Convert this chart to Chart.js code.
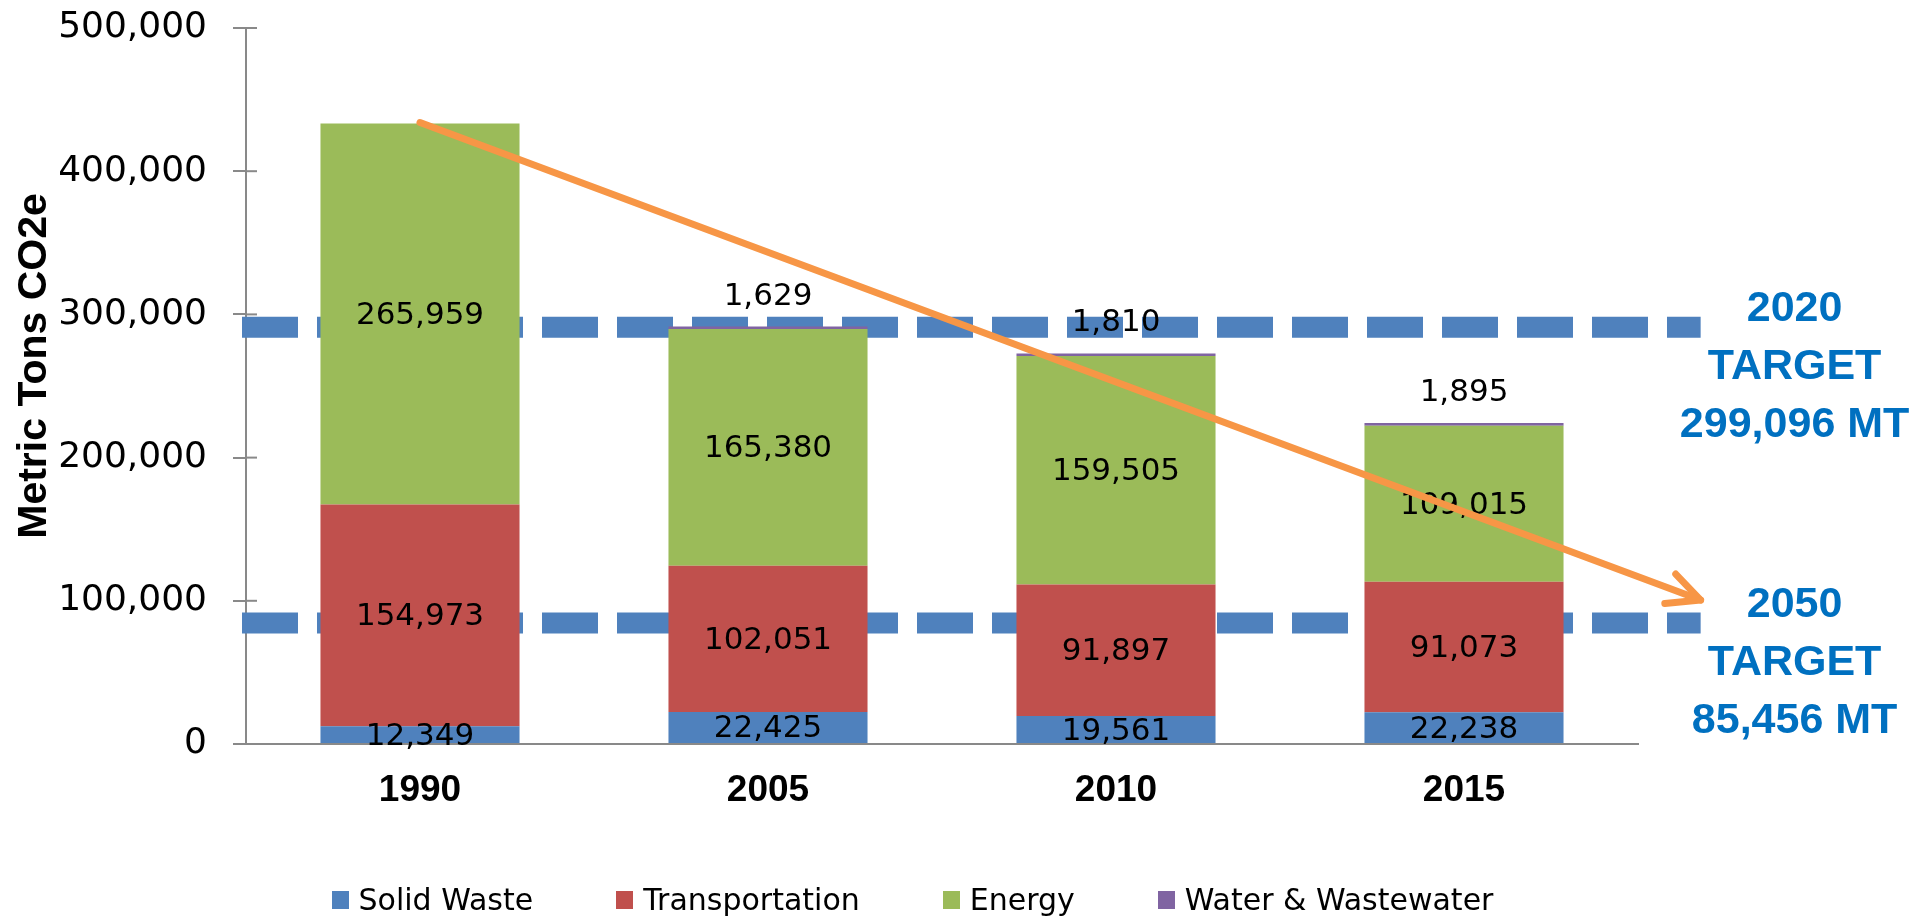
<!DOCTYPE html>
<html>
<head>
<meta charset="utf-8">
<title>Metric Tons CO2e</title>
<script src="https://cdn.jsdelivr.net/npm/chart.js@4.4.1/dist/chart.umd.min.js"></script>
<style>
  body { margin: 0; background: #fff; }
  #wrap { position: relative; width: 1931px; height: 917px; }
  #legend {
    position: absolute; left: 0; top: 885px; width: 1825px;
    display: flex; justify-content: center; gap: 83px;
    font: 30px "DejaVu Sans"; line-height: 30px; color: #000;
  }
  .item { display: flex; align-items: center; }
  .box { width: 17px; height: 18px; margin-right: 10px; }
</style>
</head>
<body>
<div id="wrap">
  <canvas id="chart" width="1931" height="917"></canvas>
  <div id="legend"></div>
</div>
<script>
const years = ["1990", "2005", "2010", "2015"];
const solidWaste = [12349, 22425, 19561, 22238];
const transportation = [154973, 102051, 91897, 91073];
const energy = [265959, 165380, 159505, 109015];
const water = [null, 1629, 1810, 1895];

const seriesNames = ["Solid Waste", "Transportation", "Energy", "Water & Wastewater"];
const seriesColors = ["#4F81BD", "#C0504D", "#9BBB59", "#8064A2"];

const yTicks = [0, 100000, 200000, 300000, 400000, 500000];
const yTitle = "Metric Tons CO2e";

// targets: label year/value, and where the dashed line sits on the axis
const targetYears = ["2020", "2050"];
const targetValues = [299096, 85456];
const targetLineValues = [291000, 84500];

// trend arrow: from the 1990 total down to past 2015
const arrowFrom = [0, 434000];
const arrowTo = [3.68, 100500];

const axisColor = "#898989";
const fmt = (v) => v.toLocaleString("en-US");

const overlay = {
	id: "overlay",
	beforeDatasetsDraw(chart) {
		const { ctx, chartArea, scales: { x, y } } = chart;
		ctx.save();
		// right half of the y tick marks
		ctx.strokeStyle = axisColor;
		ctx.lineWidth = 2;
		for (const t of yTicks) {
			const py = y.getPixelForValue(t);
			ctx.beginPath();
			ctx.moveTo(x.left, py);
			ctx.lineTo(x.left + 11, py);
			ctx.stroke();
		}
		// dashed target lines, behind the bars
		ctx.strokeStyle = "#4F81BD";
		ctx.lineWidth = 21;
		ctx.setLineDash([56, 19]);
		for (const v of targetLineValues) {
			const py = y.getPixelForValue(v);
			ctx.beginPath();
			ctx.moveTo(x.left - 4, py);
			ctx.lineTo(x.getPixelForValue(arrowTo[0]), py);
			ctx.stroke();
		}
		ctx.setLineDash([]);

		// y axis title (sits a bit above the middle, like the original)
		ctx.translate(33, (chartArea.top + chartArea.bottom) / 2 - 20);
		ctx.rotate(-Math.PI / 2);
		ctx.font = 'bold 41px "Liberation Sans"';
		ctx.fillStyle = "#000";
		ctx.textAlign = "center";
		ctx.textBaseline = "middle";
		ctx.fillText(yTitle, 0, 2);
		ctx.restore();
	},
	afterDatasetsDraw(chart) {
		const { ctx, scales: { x, y } } = chart;
		ctx.save();

		// value labels
		ctx.font = '31px "DejaVu Sans"';
		ctx.fillStyle = "#000";
		ctx.textAlign = "center";
		ctx.textBaseline = "middle";
		chart.data.datasets.forEach((ds, di) => {
			const meta = chart.getDatasetMeta(di);
			meta.data.forEach((bar, i) => {
				const v = ds.data[i];
				if (!v) return;
				const py = di === 3 ? bar.y - 32 : (bar.y + bar.base) / 2;
				ctx.fillText(fmt(v), bar.x, py + 2);
			});
		});

		// arrow
		const x0 = x.getPixelForValue(arrowFrom[0]);
		const y0 = y.getPixelForValue(arrowFrom[1]);
		const x1 = x.getPixelForValue(arrowTo[0]);
		const y1 = y.getPixelForValue(arrowTo[1]);
		const ang = Math.atan2(y1 - y0, x1 - x0);
		ctx.strokeStyle = "#F79646";
		ctx.lineWidth = 7;
		ctx.lineCap = "round";
		ctx.lineJoin = "round";
		ctx.beginPath();
		ctx.moveTo(x0, y0);
		ctx.lineTo(x1, y1);
		ctx.stroke();
		ctx.beginPath();
		ctx.moveTo(x1 - 36 * Math.cos(ang - 0.45), y1 - 36 * Math.sin(ang - 0.45));
		ctx.lineTo(x1, y1);
		ctx.lineTo(x1 - 36 * Math.cos(ang + 0.45), y1 - 36 * Math.sin(ang + 0.45));
		ctx.stroke();

		// target text blocks
		ctx.font = 'bold 43px "Liberation Sans"';
		ctx.fillStyle = "#0070C0";
		const cx = x.getPixelForValue(3.95);
		targetYears.forEach((yr, i) => {
			const cy = y.getPixelForValue(targetLineValues[i]) + 38;
			const lines = [yr, "TARGET", fmt(targetValues[i]) + " MT"];
			lines.forEach((t, k) => ctx.fillText(t, cx, cy + (k - 1) * 58 + 2));
		});
		ctx.restore();
	},
};

const datasets = seriesNames.map((name, i) => ({
	label: name,
	data: [solidWaste, transportation, energy, water][i],
	backgroundColor: seriesColors[i],
	borderWidth: 0,
	barPercentage: 0.572,
	categoryPercentage: 1,
}));

const ctx = document.getElementById("chart").getContext("2d");
const chart = new Chart(ctx, {
	type: "bar",
	data: { labels: years, datasets: datasets },
	options: {
		responsive: false,
		devicePixelRatio: 1,
		animation: false,
		layout: { padding: { top: 28, right: 293, left: 0, bottom: 93 } },
		plugins: {
			legend: { display: false },
			tooltip: { enabled: false },
		},
		scales: {
			x: {
				stacked: true,
				afterFit: (s) => { s.height = 80; },
				grid: { display: false, drawTicks: false, tickLength: 0 },
				border: { display: true, color: axisColor, width: 2 },
				ticks: {
					padding: 25,
					color: "#000",
					font: { family: "Liberation Sans", size: 37, weight: "bold" },
				},
			},
			y: {
				stacked: true,
				min: 0,
				max: 500000,
				afterFit: (s) => {
					s.width = 246;
					s.paddingTop = 0;
					s.paddingBottom = 0;
				},
				afterBuildTicks: (s) => { s.ticks = yTicks.map((v) => ({ value: v })); },
				grid: { drawOnChartArea: false, drawTicks: true, tickLength: 13, color: axisColor, lineWidth: 2 },
				border: { display: true, color: axisColor, width: 2 },
				ticks: {
					padding: 26,
					color: "#000",
					font: { family: "DejaVu Sans", size: 36 },
					callback: (v) => fmt(v),
				},
			},
		},
	},
	plugins: [overlay],
});

// legend under the chart
const legend = document.getElementById("legend");
seriesNames.forEach((name, i) => {
	const item = document.createElement("div");
	item.className = "item";
	const box = document.createElement("span");
	box.className = "box";
	box.style.background = seriesColors[i];
	item.appendChild(box);
	item.appendChild(document.createTextNode(name));
	legend.appendChild(item);
});
</script>
</body>
</html>
